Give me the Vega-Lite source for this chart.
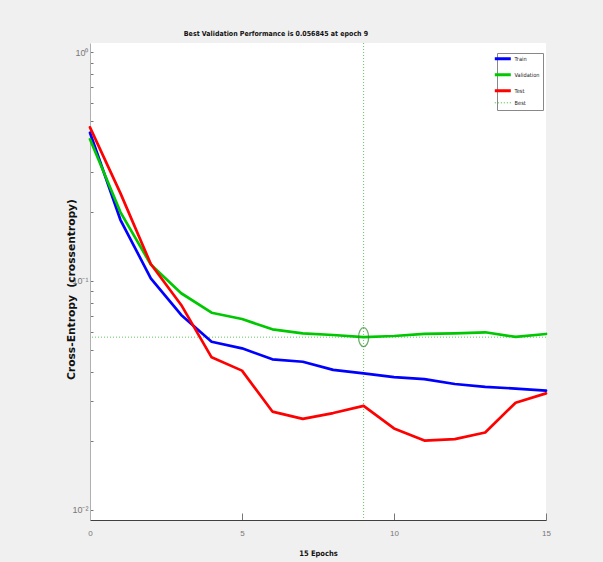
{
  "$schema": "https://vega.github.io/schema/vega-lite/v6.json",
  "width": 456,
  "height": 477,
  "autosize": {"type": "none"},
  "padding": {"left": 90, "top": 43, "right": 57, "bottom": 42},
  "background": "#f0f0f0",
  "config": {
    "view": {"fill": "white", "stroke": null},
    "font": "Liberation Sans"
  },
  "title": {
    "text": "Best Validation Performance is 0.056845 at epoch 9",
    "font": "'DejaVu Sans Condensed', 'Liberation Sans'",
    "fontSize": 7,
    "fontWeight": "bold",
    "color": "#111111",
    "anchor": "middle",
    "dx": -42,
    "offset": 6
  },
  "datasets": {
    "perf": [
      {"epoch": 0, "series": "Train", "value": 0.444},
      {"epoch": 1, "series": "Train", "value": 0.185},
      {"epoch": 2, "series": "Train", "value": 0.1027},
      {"epoch": 3, "series": "Train", "value": 0.0711},
      {"epoch": 4, "series": "Train", "value": 0.0543},
      {"epoch": 5, "series": "Train", "value": 0.0508},
      {"epoch": 6, "series": "Train", "value": 0.0455},
      {"epoch": 7, "series": "Train", "value": 0.0444},
      {"epoch": 8, "series": "Train", "value": 0.0409},
      {"epoch": 9, "series": "Train", "value": 0.0395},
      {"epoch": 10, "series": "Train", "value": 0.038},
      {"epoch": 11, "series": "Train", "value": 0.0373},
      {"epoch": 12, "series": "Train", "value": 0.0355},
      {"epoch": 13, "series": "Train", "value": 0.0345},
      {"epoch": 14, "series": "Train", "value": 0.0339},
      {"epoch": 15, "series": "Train", "value": 0.0332},
      {"epoch": 0, "series": "Validation", "value": 0.416},
      {"epoch": 1, "series": "Validation", "value": 0.2},
      {"epoch": 2, "series": "Validation", "value": 0.118},
      {"epoch": 3, "series": "Validation", "value": 0.0884},
      {"epoch": 4, "series": "Validation", "value": 0.0727},
      {"epoch": 5, "series": "Validation", "value": 0.0682},
      {"epoch": 6, "series": "Validation", "value": 0.0615},
      {"epoch": 7, "series": "Validation", "value": 0.0591},
      {"epoch": 8, "series": "Validation", "value": 0.0581},
      {"epoch": 9, "series": "Validation", "value": 0.056845},
      {"epoch": 10, "series": "Validation", "value": 0.0575},
      {"epoch": 11, "series": "Validation", "value": 0.0587},
      {"epoch": 12, "series": "Validation", "value": 0.0591},
      {"epoch": 13, "series": "Validation", "value": 0.0597},
      {"epoch": 14, "series": "Validation", "value": 0.057},
      {"epoch": 15, "series": "Validation", "value": 0.0587},
      {"epoch": 0, "series": "Test", "value": 0.469},
      {"epoch": 1, "series": "Test", "value": 0.242},
      {"epoch": 2, "series": "Test", "value": 0.1186},
      {"epoch": 3, "series": "Test", "value": 0.0786},
      {"epoch": 4, "series": "Test", "value": 0.0464},
      {"epoch": 5, "series": "Test", "value": 0.0406},
      {"epoch": 6, "series": "Test", "value": 0.0269},
      {"epoch": 7, "series": "Test", "value": 0.025},
      {"epoch": 8, "series": "Test", "value": 0.0265},
      {"epoch": 9, "series": "Test", "value": 0.0285},
      {"epoch": 10, "series": "Test", "value": 0.0227},
      {"epoch": 11, "series": "Test", "value": 0.0201},
      {"epoch": 12, "series": "Test", "value": 0.0204},
      {"epoch": 13, "series": "Test", "value": 0.0218},
      {"epoch": 14, "series": "Test", "value": 0.0294},
      {"epoch": 15, "series": "Test", "value": 0.0323}
    ],
    "best": [
      {"epoch": 9, "series": "Best", "value": 0.056845}
    ]
  },
  "layer": [
    {
      "data": {"name": "best"},
      "mark": {"type": "rule", "strokeWidth": 1, "strokeDash": [1, 2], "opacity": 0.8},
      "encoding": {
        "y": {"field": "value", "type": "quantitative"},
        "color": {"field": "series", "type": "nominal"}
      }
    },
    {
      "data": {"name": "best"},
      "mark": {"type": "rule", "strokeWidth": 1, "strokeDash": [1, 2], "opacity": 0.8},
      "encoding": {
        "x": {"field": "epoch", "type": "quantitative"},
        "color": {"field": "series", "type": "nominal"}
      }
    },
    {
      "data": {"name": "perf"},
      "mark": {"type": "line", "strokeWidth": 2.7, "strokeCap": "round", "strokeJoin": "round"},
      "encoding": {
        "x": {
          "field": "epoch",
          "type": "quantitative",
          "scale": {"domain": [0, 15], "nice": false, "zero": false},
          "axis": {
            "values": [0, 5, 10, 15],
            "title": "15 Epochs",
            "titleFont": "'DejaVu Sans Condensed', 'Liberation Sans'",
            "titleFontSize": 7.5,
            "titleFontWeight": "bold",
            "titleColor": "#111111",
            "titleBaseline": "alphabetic",
            "titleY": 35,
            "grid": false,
            "tickSize": -7,
            "tickColor": "#777777",
            "domainColor": "#404040",
            "labelFontSize": 8,
            "labelColor": "#777777",
            "labelPadding": 16,
            "labelFlush": false
          }
        },
        "y": {
          "field": "value",
          "type": "quantitative",
          "scale": {"type": "log", "domain": [0.00904, 1.095], "nice": false},
          "axis": {
            "values": [0.01, 0.02, 0.03, 0.04, 0.05, 0.06, 0.07, 0.08, 0.09, 0.1, 0.2, 0.3, 0.4, 0.5, 0.6, 0.7, 0.8, 0.9, 1],
            "labelExpr": "datum.value == 1 ? '10⁰' : datum.value == 0.1 ? '10⁻¹' : datum.value == 0.01 ? '10⁻²' : ''",
            "title": "Cross-Entropy\u00a0\u00a0(crossentropy)",
            "titleFont": "DejaVu Sans",
            "titleFontSize": 10.7,
            "titleFontWeight": "bold",
            "titleColor": "#111111",
            "titleBaseline": "alphabetic",
            "titleX": -16,
            "titleY": 246,
            "grid": false,
            "tickSize": -3,
            "tickColor": "#777777",
            "domainColor": "#b0b0b0",
            "labelFontSize": 9,
            "labelColor": "#777777",
            "labelPadding": 5,
            "labelFlush": false,
            "labelOverlap": false
          }
        },
        "color": {
          "field": "series",
          "type": "nominal",
          "scale": {
            "domain": ["Train", "Validation", "Test", "Best"],
            "range": ["#0000ff", "#00c800", "#ff0000", "#33bb33"]
          },
          "legend": {
            "title": null,
            "orient": "none",
            "legendX": 407,
            "legendY": 10,
            "symbolType": "stroke",
            "symbolSize": 256,
            "symbolStrokeWidth": 3,
            "labelFont": "'DejaVu Sans Condensed', 'Liberation Sans'",
            "labelFontSize": 5.6,
            "labelColor": "#222222",
            "labelOffset": 9,
            "rowPadding": 3,
            "padding": 3,
            "fillColor": "white",
            "strokeColor": "#888888",
            "encode": {
              "symbols": {
                "update": {
                  "strokeWidth": {"signal": "datum.value == 'Best' ? 1 : 3"},
                  "strokeDash": {"signal": "datum.value == 'Best' ? [1, 2] : [1, 0]"}
                }
              }
            }
          }
        }
      }
    },
    {
      "data": {"name": "best"},
      "mark": {
        "type": "point",
        "shape": "M0,-1A0.53,1,0,1,1,0,1A0.53,1,0,1,1,0,-1Z",
        "size": 361,
        "filled": false,
        "stroke": "#2e8b2e",
        "strokeWidth": 1.3
      },
      "encoding": {
        "x": {"field": "epoch", "type": "quantitative"},
        "y": {"field": "value", "type": "quantitative"}
      }
    }
  ]
}
